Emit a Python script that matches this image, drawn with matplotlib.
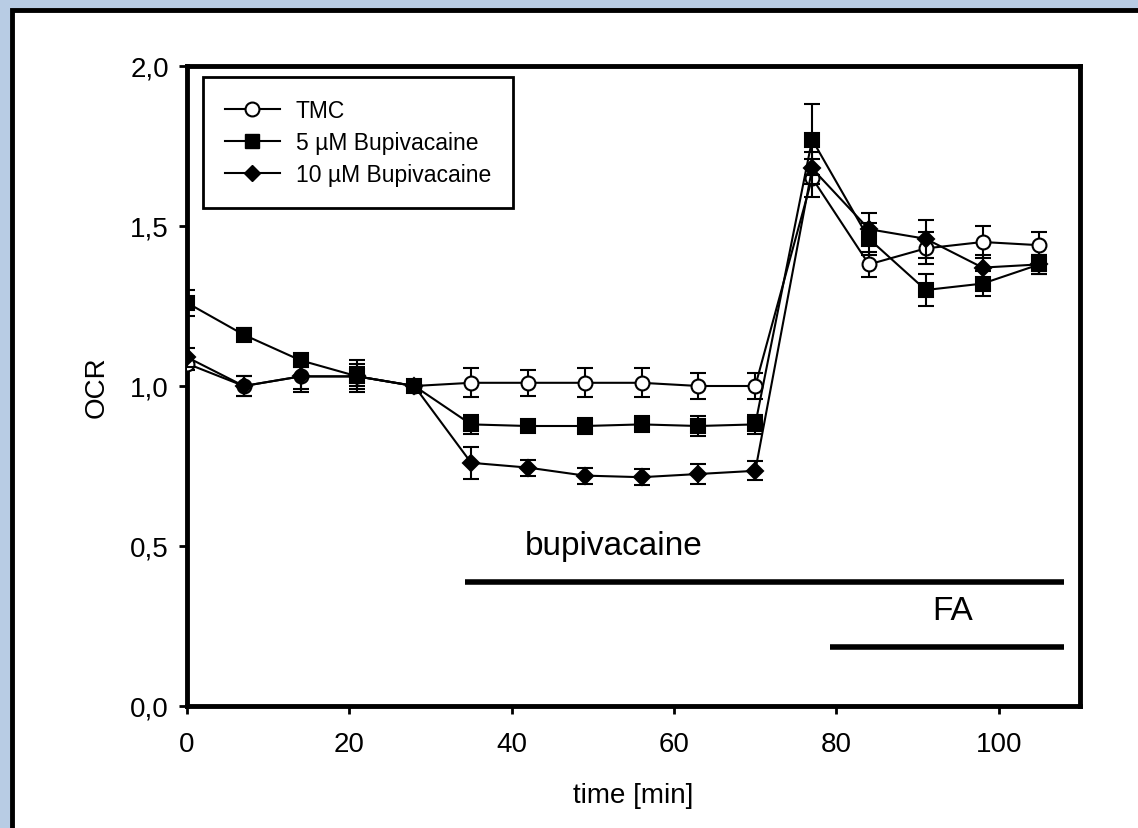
import matplotlib
matplotlib.use("Agg")
import matplotlib.pyplot as plt
from matplotlib.lines import Line2D
from matplotlib.patches import Rectangle
from matplotlib.ticker import FuncFormatter

plt.rcParams["font.family"] = ["Liberation Sans", "DejaVu Sans"]

# time points [min]
time = [0, 7, 14, 21, 28, 35, 42, 49, 56, 63, 70, 77, 84, 91, 98, 105]

tmc = [1.07, 1.00, 1.03, 1.03, 1.00, 1.01, 1.01, 1.01, 1.01, 1.00, 1.00, 1.65, 1.38, 1.43, 1.45, 1.44]
tmc_err = [0.02, 0.03, 0.04, 0.04, 0.01, 0.045, 0.04, 0.045, 0.045, 0.04, 0.04, 0.06, 0.04, 0.05, 0.05, 0.04]

bup5 = [1.26, 1.16, 1.08, 1.03, 1.00, 0.88, 0.875, 0.875, 0.88, 0.875, 0.88, 1.77, 1.46, 1.30, 1.32, 1.38]
bup5_err = [0.04, 0.02, 0.02, 0.03, 0.01, 0.03, 0.015, 0.025, 0.025, 0.03, 0.03, 0.11, 0.05, 0.05, 0.04, 0.03]

bup10 = [1.09, 1.00, 1.03, 1.03, 1.00, 0.76, 0.745, 0.72, 0.715, 0.725, 0.735, 1.68, 1.49, 1.46, 1.37, 1.38]
bup10_err = [0.03, 0.03, 0.05, 0.05, 0.01, 0.05, 0.025, 0.025, 0.025, 0.03, 0.03, 0.05, 0.05, 0.06, 0.04, 0.03]

labels = ["TMC", "5 µM Bupivacaine", "10 µM Bupivacaine"]

# treatment bars: (start, end, y)
bup_bar = (34.2, 108.0, 0.388)
fa_bar = (79.2, 108.0, 0.184)

fig = plt.figure(figsize=(11.38, 8.29), dpi=100)
fig.patch.set_facecolor("#b8cce4")

# white panel with black frame
W, H = 1138, 829
fig.patches.append(Rectangle((12 / W, -0.05), 1.1, 1 - 11 / H + 0.05,
                             transform=fig.transFigure, facecolor="white",
                             edgecolor="black", linewidth=3.5, zorder=-5))

ax = fig.add_axes([187 / W, 1 - 707 / H, (1080 - 187) / W, (707 - 67) / H])
ax.set_zorder(5)
ax.set_facecolor("none")

style = dict(color="black", linewidth=1.5, capsize=5.5, elinewidth=1.5,
             capthick=2.0, markeredgecolor="black", markeredgewidth=1.5)
ax.errorbar(time, tmc, yerr=tmc_err, marker="o", markersize=10,
            markerfacecolor="white", zorder=3, **style)
ax.errorbar(time, bup5, yerr=bup5_err, marker="s", markersize=9.5,
            markerfacecolor="black", zorder=4, **style)
ax.errorbar(time, bup10, yerr=bup10_err, marker="D", markersize=8,
            markerfacecolor="black", zorder=5, **style)

ax.plot([bup_bar[0], bup_bar[1]], [bup_bar[2]] * 2, color="black", linewidth=4,
        solid_capstyle="butt", clip_on=False)
ax.plot([fa_bar[0], fa_bar[1]], [fa_bar[2]] * 2, color="black", linewidth=4,
        solid_capstyle="butt", clip_on=False)
ax.text(52.6, 0.503, "bupivacaine", fontsize=24, ha="center", va="center")
ax.text(94.3, 0.297, "FA", fontsize=24, ha="center", va="center")

ax.set_xlim(0, 110)
ax.set_ylim(0, 2.0)
ax.set_xticks([0, 20, 40, 60, 80, 100])
ax.set_yticks([0, 0.5, 1.0, 1.5, 2.0])
ax.yaxis.set_major_formatter(FuncFormatter(lambda v, p: f"{v:.1f}".replace(".", ",")))
ax.tick_params(direction="out", length=6, width=2, labelsize=20)
ax.tick_params(axis="x", pad=12)
ax.tick_params(axis="y", pad=7)
for sp in ax.spines.values():
    sp.set_linewidth(3.5)

ax.set_xlabel("time [min]", fontsize=20, labelpad=18)
ax.set_ylabel("OCR", fontsize=20, labelpad=15)

handles = [
    Line2D([], [], color="black", linewidth=1.5, marker="o", markersize=10,
           markerfacecolor="white", markeredgewidth=1.5),
    Line2D([], [], color="black", linewidth=1.5, marker="s", markersize=9.5,
           markerfacecolor="black"),
    Line2D([], [], color="black", linewidth=1.5, marker="D", markersize=8,
           markerfacecolor="black"),
]
leg = ax.legend(handles, labels, loc="upper left", bbox_to_anchor=(0.018, 0.983),
                borderaxespad=0, fontsize=16.5, frameon=True, fancybox=False,
                edgecolor="black", framealpha=1, handlelength=2.4,
                handletextpad=0.7, borderpad=0.95, labelspacing=0.4)
leg.get_frame().set_linewidth(2)

fig.savefig("out.png", dpi=100, facecolor=fig.get_facecolor())
